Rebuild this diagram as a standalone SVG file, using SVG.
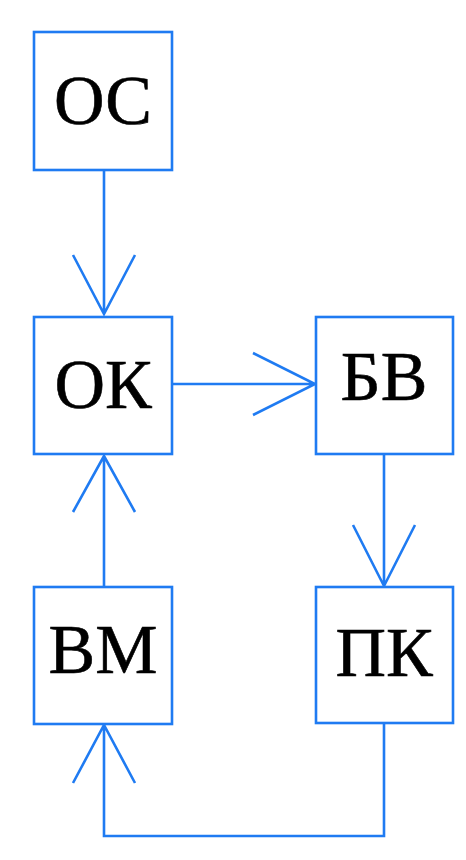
<svg xmlns="http://www.w3.org/2000/svg" width="466" height="860" viewBox="0 0 466 860">
<style>
.box{fill:#fff;stroke:#1f7bf2;stroke-width:2.6}
.lbl{font-family:"Liberation Serif","Times New Roman",serif;font-size:70px;fill:#000;stroke:#000;stroke-width:0.6;text-anchor:middle}
.ln{fill:none;stroke:#1f7bf2;stroke-width:2.6;stroke-linejoin:miter}
</style>
<rect width="466" height="860" fill="#fff"/>
<g id="connectors">
<path class="ln" d="M104,170 V314 M73,255 L104,314 L135,255"/>
<path class="ln" d="M172,384 H315 M253,353 L315,384 L253,415"/>
<path class="ln" d="M384,454 V586 M353,525 L384,586 L415,525"/>
<path class="ln" d="M104,586 V456 M73,512 L104,456 L135,512"/>
<path class="ln" d="M384,723 V836 H104 V725 M73,783 L104,725 L135,783"/>
</g>
<g id="OS"><rect class="box" x="34" y="32" width="138" height="138"/><text class="lbl" x="103" y="124">ОС</text></g>
<g id="OK"><rect class="box" x="34" y="317" width="138" height="137"/><text class="lbl" x="103" y="408">ОК</text></g>
<g id="BV"><rect class="box" x="316" y="317" width="137" height="137"/><text class="lbl" x="384" y="400">БВ</text></g>
<g id="VM"><rect class="box" x="34" y="587" width="138" height="137"/><text class="lbl" x="103" y="673">ВМ</text></g>
<g id="PK"><rect class="box" x="316" y="587" width="137" height="136"/><text class="lbl" x="384" y="676">ПК</text></g>
</svg>
